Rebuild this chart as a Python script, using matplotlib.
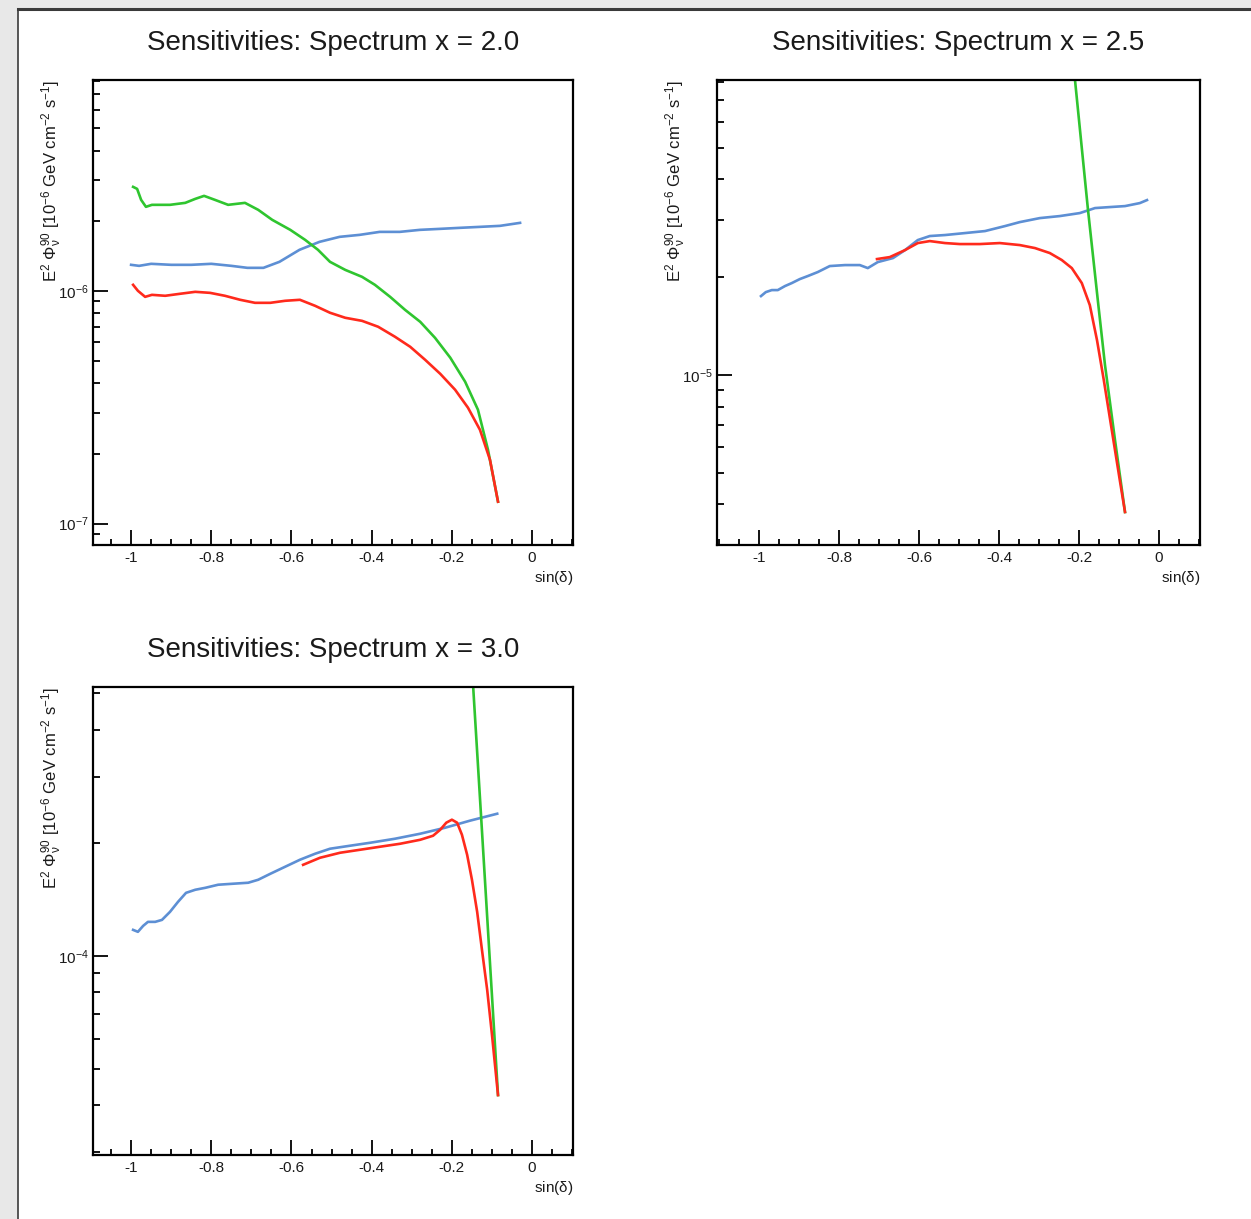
import numpy as np
import matplotlib.pyplot as plt
from matplotlib.patches import Rectangle
from matplotlib.lines import Line2D
from matplotlib.ticker import LogLocator, MultipleLocator, NullFormatter, FixedLocator

plt.rcParams['font.family'] = ['Liberation Sans', 'DejaVu Sans']
plt.rcParams['mathtext.fontset'] = 'custom'
plt.rcParams['mathtext.rm'] = 'Liberation Sans'
plt.rcParams['mathtext.it'] = 'Liberation Sans:italic'
plt.rcParams['mathtext.default'] = 'regular'

# ---- spectrum x = 2.0 (values in units of 1e-6) ----
x20_blue = [-1.0, -0.98, -0.95, -0.9, -0.85, -0.8, -0.75, -0.71, -0.67, -0.63, -0.58,
            -0.53, -0.48, -0.43, -0.38, -0.33, -0.28, -0.23, -0.18, -0.13, -0.08, -0.03]
y20_blue = [1.293, 1.280, 1.306, 1.293, 1.293, 1.306, 1.280, 1.255, 1.255, 1.332, 1.500,
            1.623, 1.705, 1.739, 1.791, 1.791, 1.827, 1.845, 1.864, 1.882, 1.901, 1.958]
x20_green = [-0.995, -0.985, -0.975, -0.963, -0.948, -0.903, -0.865, -0.840, -0.818, -0.791,
             -0.758, -0.716, -0.683, -0.648, -0.603, -0.566, -0.534, -0.504, -0.466, -0.424,
             -0.392, -0.354, -0.317, -0.279, -0.242, -0.204, -0.167, -0.135, -0.110, -0.085]
y20_green = [2.795, 2.740, 2.458, 2.294, 2.340, 2.340, 2.386, 2.482, 2.557, 2.458,
             2.340, 2.386, 2.227, 2.017, 1.827, 1.655, 1.500, 1.332, 1.230, 1.148,
             1.061, 0.942, 0.829, 0.736, 0.628, 0.516, 0.407, 0.3085, 0.2077, 0.1243]
x20_red = [-0.995, -0.983, -0.965, -0.948, -0.915, -0.878, -0.840, -0.803, -0.766, -0.728,
           -0.691, -0.653, -0.616, -0.579, -0.541, -0.504, -0.466, -0.424, -0.384, -0.342,
           -0.304, -0.267, -0.229, -0.192, -0.160, -0.130, -0.105, -0.085]
y20_red = [1.061, 1.0, 0.942, 0.961, 0.952, 0.971, 0.990, 0.980, 0.952, 0.915,
           0.888, 0.888, 0.906, 0.915, 0.862, 0.805, 0.766, 0.743, 0.701, 0.635,
           0.575, 0.506, 0.440, 0.376, 0.315, 0.253, 0.188, 0.1243]

# ---- spectrum x = 2.5 (values in units of 1e-5) ----
x25_blue = [-0.995, -0.983, -0.968, -0.953, -0.935, -0.918, -0.898, -0.878, -0.853, -0.823,
            -0.785, -0.748, -0.728, -0.703, -0.665, -0.635, -0.603, -0.573, -0.535, -0.485,
            -0.435, -0.385, -0.348, -0.298, -0.248, -0.198, -0.160, -0.123, -0.085, -0.048, -0.030]
y25_blue = [1.750, 1.800, 1.826, 1.826, 1.879, 1.919, 1.974, 2.017, 2.075, 2.165,
            2.180, 2.180, 2.134, 2.227, 2.291, 2.424, 2.603, 2.678, 2.697, 2.735,
            2.774, 2.874, 2.956, 3.041, 3.085, 3.151, 3.265, 3.288, 3.311, 3.382, 3.455]
x25_green = [-0.215, -0.21, -0.178, -0.153, -0.135, -0.11, -0.085]
y25_green = [9.31, 8.088, 3.265, 1.701, 1.073, 0.631, 0.379]
x25_red = [-0.705, -0.673, -0.635, -0.603, -0.573, -0.535, -0.498, -0.448, -0.398, -0.348,
           -0.310, -0.273, -0.243, -0.218, -0.193, -0.173, -0.155, -0.138, -0.118, -0.098, -0.085]
y25_red = [2.275, 2.307, 2.424, 2.548, 2.584, 2.548, 2.530, 2.530, 2.548, 2.512,
           2.459, 2.374, 2.259, 2.134, 1.919, 1.642, 1.281, 0.965, 0.677, 0.475, 0.379]

# ---- spectrum x = 3.0 (values in units of 1e-4) ----
x30_blue = [-0.995, -0.983, -0.970, -0.958, -0.940, -0.923, -0.903, -0.883, -0.863, -0.840,
            -0.815, -0.783, -0.748, -0.708, -0.683, -0.653, -0.616, -0.579, -0.541, -0.504,
            -0.454, -0.404, -0.342, -0.279, -0.217, -0.155, -0.087]
y30_blue = [1.173, 1.159, 1.202, 1.232, 1.232, 1.247, 1.310, 1.393, 1.472, 1.500,
            1.518, 1.547, 1.556, 1.566, 1.595, 1.654, 1.727, 1.803, 1.871, 1.929,
            1.965, 2.001, 2.051, 2.115, 2.194, 2.291, 2.391]
x30_green = [-0.150, -0.147, -0.127, -0.107, -0.085]
y30_green = [5.79, 5.216, 2.333, 1.037, 0.426]
x30_red = [-0.571, -0.529, -0.479, -0.429, -0.379, -0.329, -0.279, -0.247, -0.229, -0.214,
           -0.200, -0.187, -0.175, -0.162, -0.150, -0.137, -0.125, -0.112, -0.100, -0.085]
y30_red = [1.748, 1.825, 1.882, 1.917, 1.953, 1.989, 2.038, 2.089, 2.168, 2.263,
           2.305, 2.263, 2.102, 1.859, 1.595, 1.310, 1.037, 0.812, 0.616, 0.426]

titles = ['Sensitivities: Spectrum x = 2.0',
          'Sensitivities: Spectrum x = 2.5',
          'Sensitivities: Spectrum x = 3.0']
ylabel = r'E$^{2}$ $\Phi_{\nu}^{90}$ [10$^{-6}$ GeV cm$^{-2}$ s$^{-1}$]'

c_blue = '#5d8fd4'
c_green = '#2fc52f'
c_red = '#ff2a1c'

W, H = 1251, 1219
fig = plt.figure(figsize=(W / 100, H / 100), dpi=100)
fig.patch.set_facecolor('#e8e8e8')

# white canvas with window border
fig.patches.append(Rectangle((18 / W, 0), 1 - 18 / W, 1 - 9 / H, transform=fig.transFigure,
                             facecolor='white', edgecolor='none', zorder=-10))
fig.lines.append(Line2D([18 / W, 1], [1 - 9 / H, 1 - 9 / H], transform=fig.transFigure,
                        color='#3a3a3a', lw=2.2))
fig.lines.append(Line2D([18 / W, 18 / W], [0, 1 - 9 / H], transform=fig.transFigure,
                        color='#3a3a3a', lw=1.2))


def px_axes(l, t, r, b):
    return fig.add_axes([l / W, 1 - b / H, (r - l) / W, (b - t) / H])


ax1 = px_axes(93, 80, 573, 545)
ax2 = px_axes(717, 80, 1200, 545)
ax3 = px_axes(93, 687, 573, 1155)

panels = [
    (ax1, 1e-6, (8.1e-8, 8.04e-6), (-1.095, 0.102),
     [(x20_blue, y20_blue, c_blue), (x20_green, y20_green, c_green), (x20_red, y20_red, c_red)]),
    (ax2, 1e-5, (3.0e-6, 8.09e-5), (-1.105, 0.1025),
     [(x25_blue, y25_blue, c_blue), (x25_green, y25_green, c_green), (x25_red, y25_red, c_red)]),
    (ax3, 1e-4, (2.95e-5, 5.2e-4), (-1.095, 0.102),
     [(x30_blue, y30_blue, c_blue), (x30_green, y30_green, c_green), (x30_red, y30_red, c_red)]),
]

for (ax, scale, ylim, xlim, curves), title in zip(panels, titles):
    for xs, ys, col in curves:
        ax.plot(xs, np.array(ys) * scale, color=col, lw=1.9, solid_joinstyle='round')
    ax.set_yscale('log')
    ax.set_ylim(*ylim)
    ax.set_xlim(*xlim)
    ax.set_facecolor('white')

    ax.xaxis.set_major_locator(FixedLocator([-1, -0.8, -0.6, -0.4, -0.2, 0]))
    ax.xaxis.set_minor_locator(MultipleLocator(0.05))
    ax.set_xticklabels(['-1', '-0.8', '-0.6', '-0.4', '-0.2', '0'])
    ax.yaxis.set_major_locator(LogLocator(base=10, numticks=10))
    ax.yaxis.set_minor_locator(LogLocator(base=10, subs=np.arange(2, 10), numticks=10))
    ax.yaxis.set_minor_formatter(NullFormatter())

    ax.tick_params(which='both', direction='in', top=False, right=False,
                   width=1.3, colors='black', labelcolor='#1a1a1a', labelsize=11)
    ax.tick_params(axis='x', which='major', length=10.5, pad=4)
    ax.tick_params(axis='x', which='minor', length=4.5)
    ax.tick_params(axis='y', which='major', length=10.5, pad=3)
    ax.tick_params(axis='y', which='minor', length=5)
    for sp in ax.spines.values():
        sp.set_linewidth(1.6)
        sp.set_color('black')

    ax.set_xlabel(r'sin($\delta$)', fontsize=11, loc='right', labelpad=3, color='#1a1a1a')
    ax.set_ylabel(ylabel, fontsize=12, loc='top', color='#1a1a1a')
    bb = ax.get_position()
    ax.yaxis.set_label_coords(-29 / (bb.width * W), 1.0)

    fig.text(bb.x0 + bb.width / 2, bb.y1 + 37 / H, title, ha='center', va='center',
             fontsize=20, color='#1a1a1a')

fig.savefig('out.png', dpi=100, facecolor=fig.get_facecolor())
